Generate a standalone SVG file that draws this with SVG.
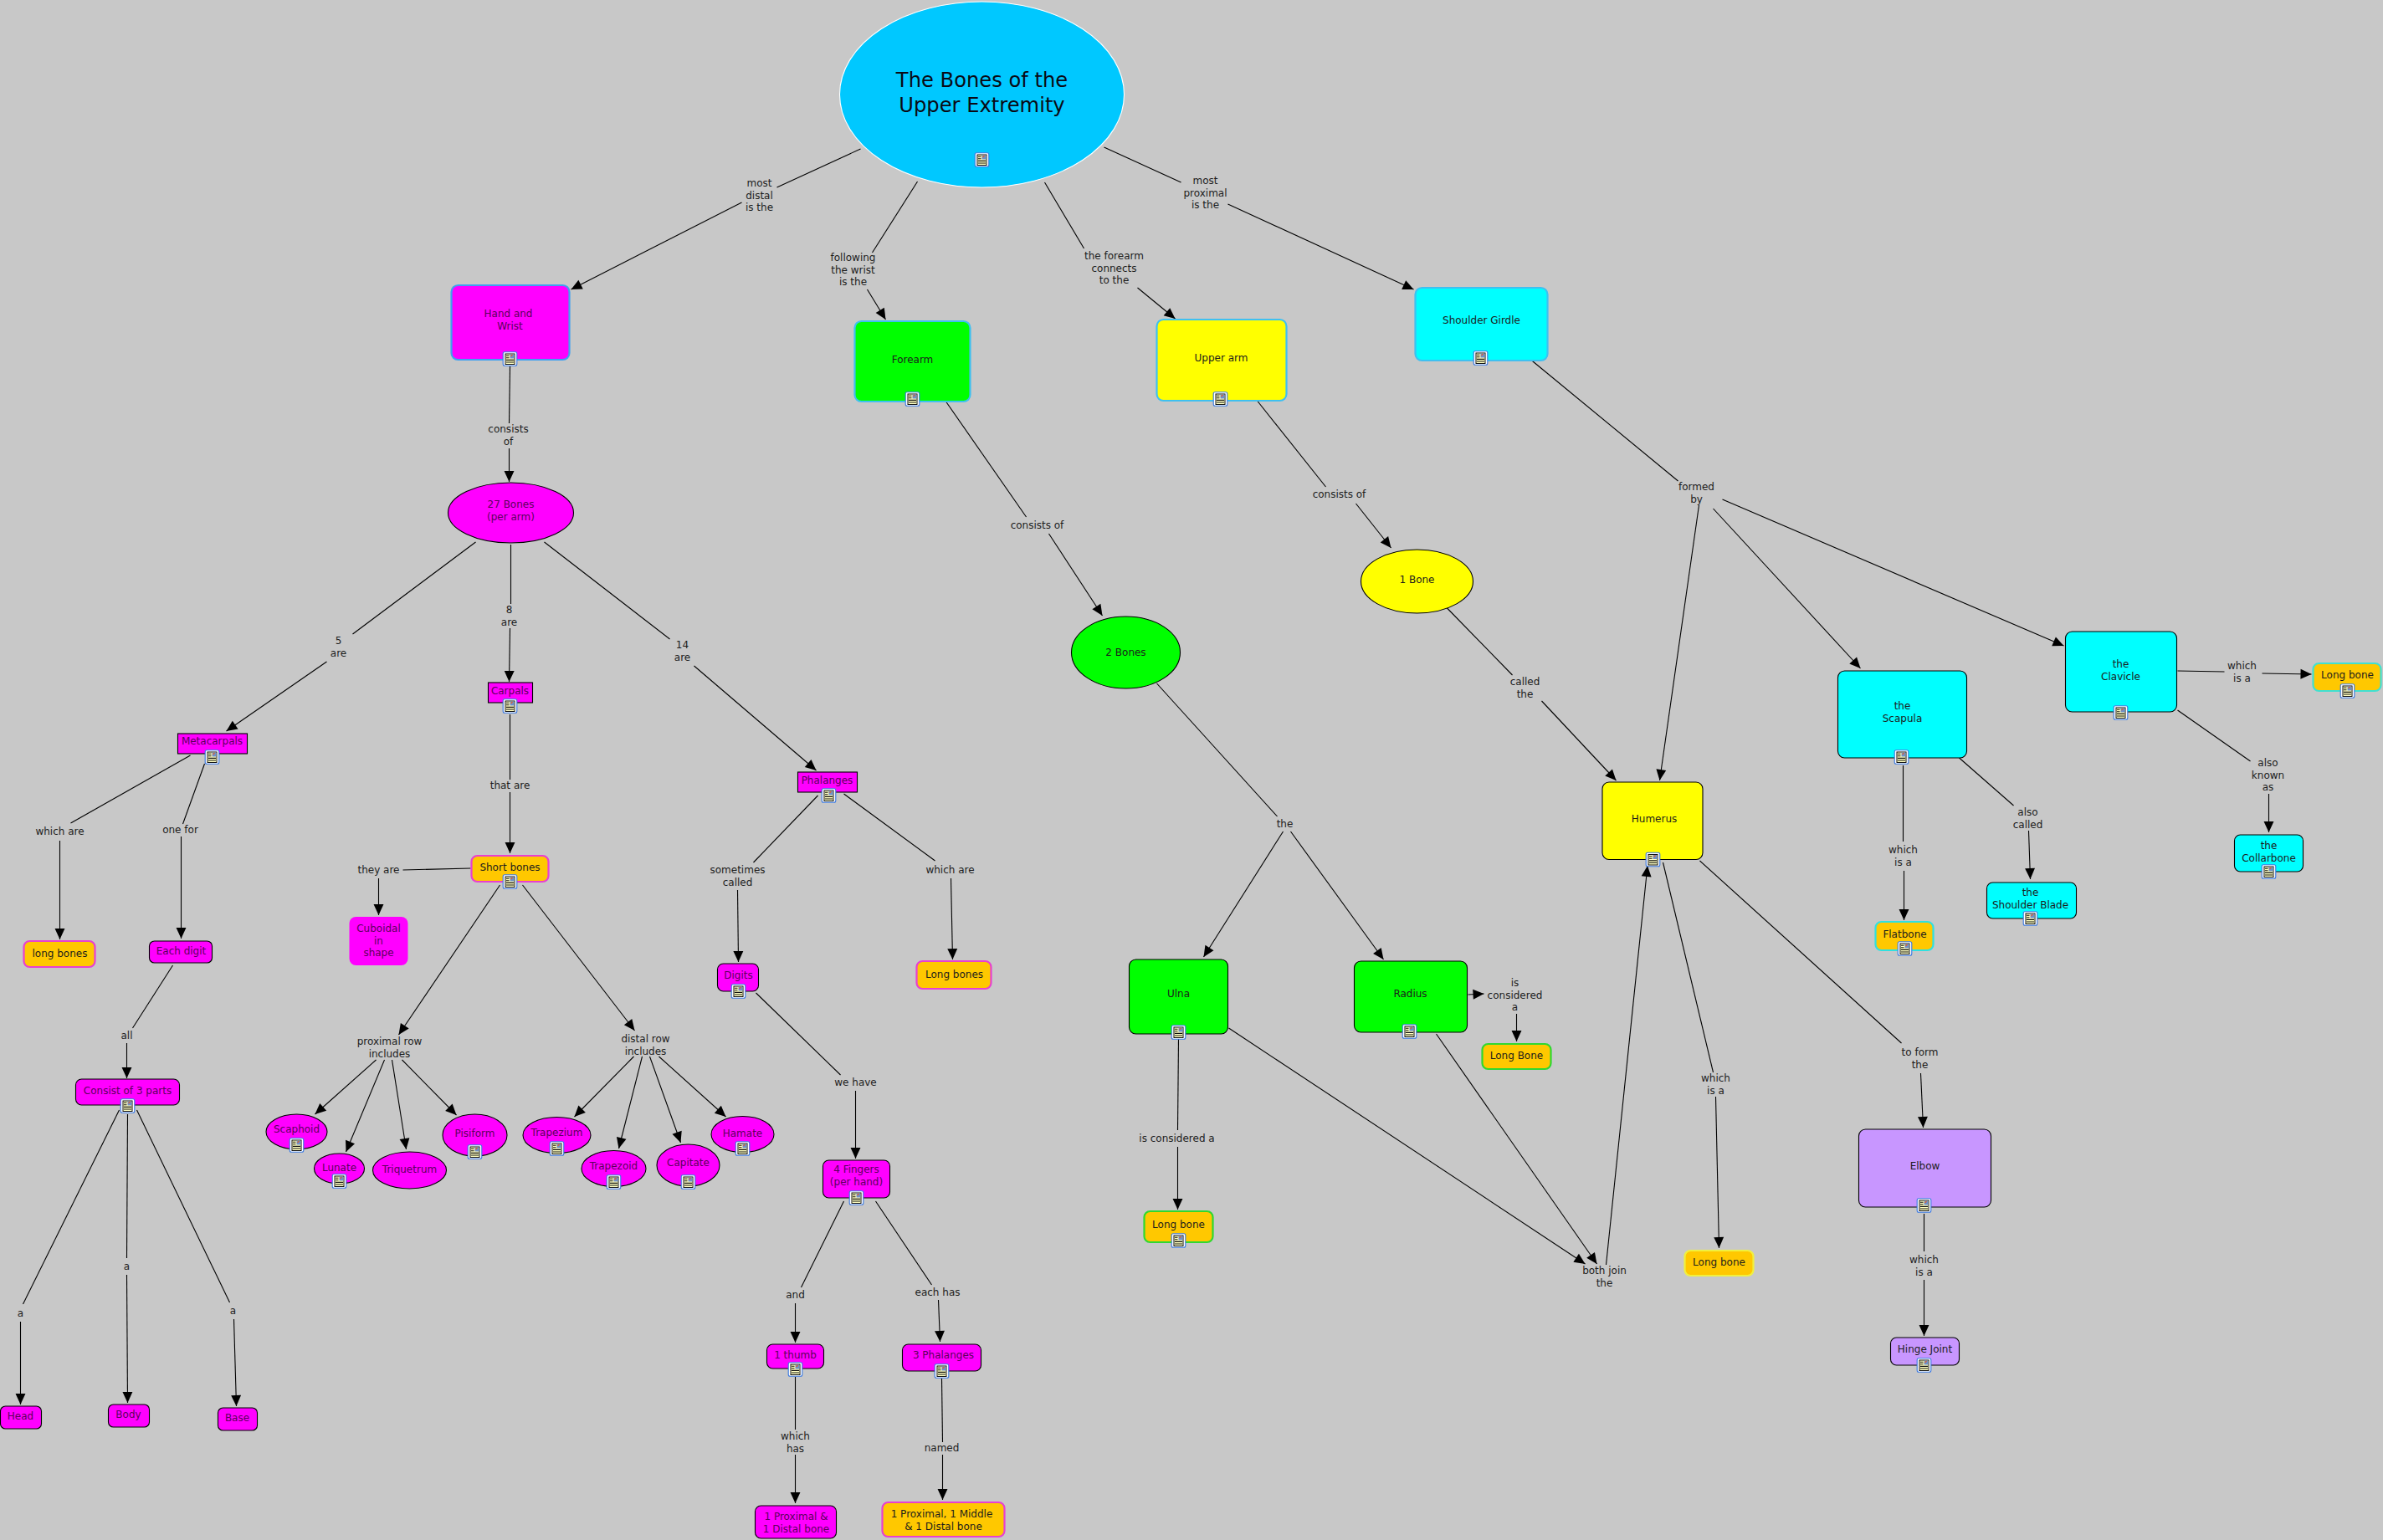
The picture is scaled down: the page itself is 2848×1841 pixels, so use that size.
<svg xmlns="http://www.w3.org/2000/svg" width="2848" height="1841" viewBox="0 0 2848 1841">
<style>
text{font-family:"DejaVu Sans","Verdana",sans-serif;font-size:12px;text-anchor:middle;dominant-baseline:central;fill:#1c1c1c}
.m text{fill:#5c005c}
text.title{font-size:24.2px;fill:#0a0a14}
.l{fill:none;stroke:#000;stroke-width:1.1}
.a{marker-end:url(#arrow)}
.mag{fill:#f0f;stroke:#000;stroke-width:1.1}
.org{fill:#ffc800;stroke-width:2.2}
.cyn{fill:#0ff;stroke:#000;stroke-width:1.1}
.yel{fill:#ff0;stroke:#000;stroke-width:1.1}
.grn{fill:#0f0;stroke:#000;stroke-width:1.1}
</style>
<defs>
<marker id="arrow" markerUnits="userSpaceOnUse" markerWidth="13" markerHeight="13" refX="12" refY="6" orient="auto" viewBox="0 0 12 12" overflow="visible"><path d="M0 .5L12 6L0 11.5Z" fill="#000"/></marker>
<g id="icon">
<rect x="-8.3" y="-8.3" width="16.6" height="16.6" rx="2" fill="#fff" stroke="#3a78e0" stroke-width="1.1"/>
<rect x="-5.5" y="-6" width="11" height="12.5" fill="#ffffc0" stroke="#111" stroke-width="1"/>
<rect x="0" y="-5.5" width="5" height="5" fill="#6f90c8"/>
<path d="M-4.5-3.7H-1M-4.5-1.3H-1M-4.5 1.4H4.5M-4.5 4H4.5" stroke="#111" stroke-width="1.1" fill="none"/>
<path d="M1-3L3-5" stroke="#e06030" stroke-width="1.2"/>
</g>
</defs>
<rect width="2848" height="1841" fill="#c8c8c8"/>
<g transform="translate(.5 1)">
<g id="connectors">
<path class="l" d="M1028 177L928 223"/><path class="l a" d="M886 241L682 345"/>
<path class="l" d="M1096 216L1042 301"/><path class="l a" d="M1036 345L1058 381"/>
<path class="l" d="M1248 217L1295 296"/><path class="l a" d="M1359 343L1404 380"/>
<path class="l" d="M1319 175L1411 217"/><path class="l a" d="M1467 243L1689 345"/>
<path class="l" d="M609 437L608 505"/><path class="l a" d="M608 535L608 575"/>
<path class="l" d="M568 647L421 757"/><path class="l a" d="M390 790L270 873"/>
<path class="l" d="M610 650L610 721"/><path class="l a" d="M609 750L608 814"/>
<path class="l" d="M650 647L800 763"/><path class="l a" d="M829 795L975 920"/>
<path class="l" d="M609 853L609 931"/><path class="l a" d="M609 946L609 1019"/>
<path class="l" d="M562 1037L481 1039"/><path class="l a" d="M452 1049L452 1093"/>
<path class="l a" d="M597 1057L476 1236"/><path class="l a" d="M624 1057L758 1231"/>
<path class="l a" d="M449 1266L376 1331"/><path class="l a" d="M459 1266L413 1376"/><path class="l a" d="M468 1266L485 1373"/><path class="l a" d="M480 1266L545 1332"/>
<path class="l a" d="M757 1262L686 1334"/><path class="l a" d="M767 1262L739 1372"/><path class="l a" d="M776 1262L813 1365"/><path class="l a" d="M787 1262L867 1334"/>
<path class="l" d="M227 902L84 983"/><path class="l a" d="M71 1004L71 1122"/>
<path class="l" d="M244 912L218 984"/><path class="l a" d="M216 999L216 1121"/>
<path class="l" d="M206 1153L158 1228"/><path class="l a" d="M151 1246L151 1288"/>
<path class="l" d="M142 1326L27 1558"/><path class="l a" d="M24 1579L24 1678"/>
<path class="l" d="M152 1331L151 1503"/><path class="l a" d="M151 1523L152 1676"/>
<path class="l" d="M163 1326L274 1556"/><path class="l a" d="M279 1576L282 1680"/>
<path class="l" d="M977 950L900 1030"/><path class="l a" d="M881 1063L882 1149"/>
<path class="l" d="M1008 948L1117 1028"/><path class="l a" d="M1136 1049L1138 1146"/>
<path class="l" d="M903 1186L1004 1284"/><path class="l a" d="M1022 1303L1022 1384"/>
<path class="l" d="M1008 1435L957 1538"/><path class="l a" d="M950 1557L950 1604"/>
<path class="l" d="M1046 1435L1113 1535"/><path class="l a" d="M1121 1553L1123 1603"/>
<path class="l" d="M950 1645L950 1708"/><path class="l a" d="M950 1738L950 1796"/>
<path class="l" d="M1125 1647L1126 1723"/><path class="l a" d="M1126 1738L1126 1792"/>
<path class="l" d="M1130 479L1226 617"/><path class="l a" d="M1253 637L1317 735"/>
<path class="l" d="M1502 478L1584 581"/><path class="l a" d="M1620 601L1662 654"/>
<path class="l" d="M1382 816L1526 975"/>
<path class="l a" d="M1533 993L1438 1143"/><path class="l a" d="M1542 993L1653 1146"/>
<path class="l" d="M1729 726L1807 806"/><path class="l a" d="M1842 837L1931 932"/>
<path class="l a" d="M1468 1228L1894 1510"/><path class="l a" d="M1716 1235L1908 1510"/>
<path class="l a" d="M1919 1511L1968.5 1034"/>
<path class="l" d="M1987 1030L2047 1281"/><path class="l a" d="M2050 1310L2054 1491"/>
<path class="l" d="M2031 1028L2272 1246"/><path class="l a" d="M2295 1282L2298 1347"/>
<path class="l" d="M2299 1450L2299 1495"/><path class="l a" d="M2299 1529L2299 1596"/>
<path class="l" d="M1829 429L2005 574"/>
<path class="l a" d="M2030 603L1983 932"/><path class="l a" d="M2047 607L2223 798"/><path class="l a" d="M2058 596L2466 771"/>
<path class="l" d="M2274 914L2274 1005"/><path class="l a" d="M2275 1040L2275 1099"/>
<path class="l" d="M2341 905L2406 962"/><path class="l a" d="M2424 992L2426 1050"/>
<path class="l" d="M2602 801L2658 802"/><path class="l a" d="M2703 804L2762 805"/>
<path class="l" d="M2602 848L2689 909"/><path class="l a" d="M2711 948L2711 994"/>
<path class="l" d="M1408 1240L1407 1350"/><path class="l a" d="M1407 1370L1407 1445"/>
<path class="l a" d="M1754 1188L1773 1187"/><path class="l a" d="M1812 1211L1812 1244"/>
</g>
<g id="labels">
<text x="907" y="218">most<tspan x="907" dy="14.7">distal</tspan><tspan x="907" dy="14.7">is the</tspan></text>
<text x="1019" y="307">following<tspan x="1019" dy="14.7">the wrist</tspan><tspan x="1019" dy="14.7">is the</tspan></text>
<text x="1331" y="305">the forearm<tspan x="1331" dy="14.7">connects</tspan><tspan x="1331" dy="14.7">to the</tspan></text>
<text x="1440" y="215">most<tspan x="1440" dy="14.7">proximal</tspan><tspan x="1440" dy="14.7">is the</tspan></text>
<text x="607" y="512">consists<tspan x="607" dy="14.7">of</tspan></text>
<text x="1239" y="627">consists of</text>
<text x="1600" y="590">consists of</text>
<text x="2027" y="581">formed<tspan x="2027" dy="14.7">by</tspan></text>
<text x="1822" y="814">called<tspan x="1822" dy="14.7">the</tspan></text>
<text x="1535" y="984">the</text>
<text x="404" y="765">5<tspan x="404" dy="14.7">are</tspan></text>
<text x="608" y="728">8<tspan x="608" dy="14.7">are</tspan></text>
<text x="815" y="770">14<tspan x="815" dy="14.7">are</tspan></text>
<text x="609" y="938">that are</text>
<text x="452" y="1039">they are</text>
<text x="215" y="991">one for</text>
<text x="71" y="993">which are</text>
<text x="1135" y="1039">which are</text>
<text x="881" y="1039">sometimes<tspan x="881" dy="14.7">called</tspan></text>
<text x="151" y="1237">all</text>
<text x="1022" y="1293">we have</text>
<text x="24" y="1569">a</text>
<text x="151" y="1513">a</text>
<text x="278" y="1566">a</text>
<text x="950" y="1547">and</text>
<text x="1120" y="1544">each has</text>
<text x="950" y="1716">which<tspan x="950" dy="14.7">has</tspan></text>
<text x="1125" y="1730">named</text>
<text x="465" y="1244">proximal row<tspan x="465" dy="14.7">includes</tspan></text>
<text x="771" y="1241">distal row<tspan x="771" dy="14.7">includes</tspan></text>
<text x="1810" y="1174">is<tspan x="1810" dy="14.7">considered</tspan><tspan x="1810" dy="14.7">a</tspan></text>
<text x="1406" y="1360">is considered a</text>
<text x="1917" y="1518">both join<tspan x="1917" dy="14.7">the</tspan></text>
<text x="2050" y="1288">which<tspan x="2050" dy="14.7">is a</tspan></text>
<text x="2294" y="1257">to form<tspan x="2294" dy="14.7">the</tspan></text>
<text x="2299" y="1505">which<tspan x="2299" dy="14.7">is a</tspan></text>
<text x="2274" y="1015">which<tspan x="2274" dy="14.7">is a</tspan></text>
<text x="2423" y="970">also<tspan x="2423" dy="14.7">called</tspan></text>
<text x="2679" y="795">which<tspan x="2679" dy="14.7">is a</tspan></text>
<text x="2710" y="911">also<tspan x="2710" dy="14.7">known</tspan><tspan x="2710" dy="14.7">as</tspan></text>
</g>
<g id="n-root"><ellipse cx="1173" cy="112" rx="170" ry="111" fill="#00c8ff" stroke="#fff" stroke-width="1.1"/><text class="title" x="1173" y="95">The Bones of the<tspan x="1173" dy="29.5">Upper Extremity</tspan></text><use href="#icon" x="1173" y="190"/></g>
<g id="n-hand" class="m"><rect x="539" y="340" width="141" height="89" rx="8" fill="#f0f" stroke="#3fa0f0" stroke-width="2.2"/><text x="607" y="374">Hand and<tspan x="609" dy="14.7">Wrist</tspan></text><use href="#icon" x="609" y="428"/></g>
<g id="n-forearm"><rect x="1021" y="383" width="138" height="96" rx="8" fill="#0f0" stroke="#3fc0f0" stroke-width="2.2"/><text x="1090" y="429">Forearm</text><use href="#icon" x="1090" y="476"/></g>
<g id="n-upperarm"><rect x="1382" y="381" width="155" height="97" rx="8" fill="#ff0" stroke="#3fc0f0" stroke-width="2.2"/><text x="1459" y="427">Upper arm</text><use href="#icon" x="1458" y="476"/></g>
<g id="n-shoulder"><rect x="1691" y="343" width="158" height="87" rx="8" fill="#0ff" stroke="#3fc0f0" stroke-width="2.2"/><text x="1770" y="382">Shoulder Girdle</text><use href="#icon" x="1769" y="427"/></g>
<g id="n-27bones" class="m"><ellipse class="mag" cx="610" cy="612" rx="75" ry="36"/><text x="610" y="602">27 Bones<tspan x="610" dy="14.7">(per arm)</tspan></text></g>
<g id="n-metacarpals" class="m"><rect class="mag" x="212" y="876" width="83" height="24"/><text x="253" y="885">Metacarpals</text><use href="#icon" x="253" y="904"/></g>
<g id="n-carpals" class="m"><rect class="mag" x="583" y="815" width="53" height="24"/><text x="609" y="825">Carpals</text><use href="#icon" x="609" y="843"/></g>
<g id="n-phalanges" class="m"><rect class="mag" x="953" y="922" width="71" height="24"/><text x="988" y="932">Phalanges</text><use href="#icon" x="990" y="950"/></g>
<g id="n-shortbones"><rect class="org" x="563" y="1022" width="92" height="31" rx="7" stroke="#e840d0"/><text x="609" y="1036">Short bones</text><use href="#icon" x="609" y="1053"/></g>
<g id="n-cuboidal" class="m"><rect x="417" y="1095" width="70" height="58" rx="8" fill="#f0f"/><text x="452" y="1109">Cuboidal<tspan x="452" dy="14.7">in</tspan><tspan x="452" dy="14.7">shape</tspan></text></g>
<g id="n-eachdigit" class="m"><rect class="mag" x="178" y="1124" width="75" height="26" rx="6"/><text x="216" y="1136">Each digit</text></g>
<g id="n-longbones1"><rect class="org" x="28" y="1124" width="85" height="31" rx="7" stroke="#e840d0"/><text x="71" y="1139">long bones</text></g>
<g id="n-consist" class="m"><rect class="mag" x="90" y="1289" width="124" height="31" rx="7"/><text x="152" y="1303">Consist of 3 parts</text><use href="#icon" x="152" y="1321"/></g>
<g id="n-head" class="m"><rect class="mag" x="0" y="1680" width="49" height="27" rx="6"/><text x="24" y="1692">Head</text></g>
<g id="n-body" class="m"><rect class="mag" x="129" y="1678" width="49" height="27" rx="6"/><text x="153" y="1690">Body</text></g>
<g id="n-base" class="m"><rect class="mag" x="260" y="1682" width="47" height="27" rx="6"/><text x="283" y="1694">Base</text></g>
<g id="n-scaphoid" class="m"><ellipse class="mag" cx="354" cy="1352" rx="36.5" ry="21"/><text x="354" y="1349">Scaphoid</text><use href="#icon" x="354" y="1368"/></g>
<g id="n-lunate" class="m"><ellipse class="mag" cx="405" cy="1396" rx="30" ry="18"/><text x="405" y="1395">Lunate</text><use href="#icon" x="405" y="1411"/></g>
<g id="n-triquetrum" class="m"><ellipse class="mag" cx="489" cy="1398" rx="44" ry="22"/><text x="489" y="1397">Triquetrum</text></g>
<g id="n-pisiform" class="m"><ellipse class="mag" cx="567" cy="1356" rx="38.5" ry="25"/><text x="567" y="1354">Pisiform</text><use href="#icon" x="567" y="1376"/></g>
<g id="n-trapezium" class="m"><ellipse class="mag" cx="665" cy="1356" rx="40.5" ry="21.5"/><text x="665" y="1353">Trapezium</text><use href="#icon" x="665" y="1372"/></g>
<g id="n-trapezoid" class="m"><ellipse class="mag" cx="733" cy="1396" rx="38.5" ry="21.5"/><text x="733" y="1393">Trapezoid</text><use href="#icon" x="733" y="1412"/></g>
<g id="n-capitate" class="m"><ellipse class="mag" cx="822" cy="1392" rx="37.5" ry="25"/><text x="822" y="1389">Capitate</text><use href="#icon" x="822" y="1412"/></g>
<g id="n-hamate" class="m"><ellipse class="mag" cx="887" cy="1355" rx="37.5" ry="21.5"/><text x="887" y="1354">Hamate</text><use href="#icon" x="887" y="1372"/></g>
<g id="n-digits" class="m"><rect class="mag" x="857" y="1151" width="49" height="33" rx="7"/><text x="882" y="1165">Digits</text><use href="#icon" x="882" y="1184"/></g>
<g id="n-longbones2"><rect class="org" x="1095" y="1148" width="89" height="33" rx="7" stroke="#e840d0"/><text x="1140" y="1164">Long bones</text></g>
<g id="n-fingers" class="m"><rect class="mag" x="983" y="1386" width="80" height="45" rx="7"/><text x="1023" y="1397">4 Fingers<tspan x="1023" dy="14.7">(per hand)</tspan></text><use href="#icon" x="1023" y="1431"/></g>
<g id="n-thumb" class="m"><rect class="mag" x="916" y="1606" width="68" height="29" rx="7"/><text x="950" y="1619">1 thumb</text><use href="#icon" x="950" y="1636"/></g>
<g id="n-3phal" class="m"><rect class="mag" x="1078" y="1606" width="94" height="32" rx="7"/><text x="1127" y="1619">3 Phalanges</text><use href="#icon" x="1125" y="1638"/></g>
<g id="n-1prox" class="m"><rect class="mag" x="902" y="1799" width="97" height="39" rx="7"/><text x="951" y="1812">1 Proximal &amp;<tspan x="951" dy="14.7">1 Distal bone</tspan></text></g>
<g id="n-1proxmid"><rect class="org" x="1054" y="1795" width="146" height="41" rx="7" stroke="#e840d0"/><text x="1125" y="1809">1 Proximal, 1 Middle<tspan x="1127" dy="14.7">&amp; 1 Distal bone</tspan></text></g>
<g id="n-2bones"><ellipse class="grn" cx="1345" cy="779" rx="65" ry="43"/><text x="1345" y="779">2 Bones</text></g>
<g id="n-1bone"><ellipse class="yel" cx="1693" cy="694" rx="67" ry="38"/><text x="1693" y="692">1 Bone</text></g>
<g id="n-ulna"><rect class="grn" x="1349" y="1146" width="118" height="89" rx="8"/><text x="1408" y="1187">Ulna</text><use href="#icon" x="1408" y="1233"/></g>
<g id="n-radius"><rect class="grn" x="1618" y="1148" width="135" height="85" rx="8"/><text x="1685" y="1187">Radius</text><use href="#icon" x="1684" y="1232"/></g>
<g id="n-longbone-rad"><rect class="org" x="1771" y="1247" width="82" height="30" rx="7" stroke="#30d830"/><text x="1812" y="1261">Long Bone</text></g>
<g id="n-longbone-uln"><rect class="org" x="1367" y="1447" width="82" height="37" rx="7" stroke="#30d830"/><text x="1408" y="1463">Long bone</text><use href="#icon" x="1408" y="1482"/></g>
<g id="n-humerus"><rect class="yel" x="1914.5" y="934" width="120" height="92.5" rx="8"/><text x="1976.5" y="978">Humerus</text><use href="#icon" x="1975" y="1026.5"/></g>
<g id="n-scapula"><rect class="cyn" x="2196" y="801" width="154" height="104" rx="8"/><text x="2273" y="843">the<tspan x="2273" dy="14.7">Scapula</tspan></text><use href="#icon" x="2272" y="904"/></g>
<g id="n-clavicle"><rect class="cyn" x="2468" y="754" width="133" height="96" rx="8"/><text x="2534" y="793">the<tspan x="2534" dy="14.7">Clavicle</tspan></text><use href="#icon" x="2534" y="851"/></g>
<g id="n-longbone-cla"><rect class="org" x="2764" y="792" width="81" height="33" rx="7" stroke="#40e0d0"/><text x="2805" y="806">Long bone</text><use href="#icon" x="2805" y="825"/></g>
<g id="n-collarbone"><rect class="cyn" x="2670" y="997" width="82" height="44" rx="7"/><text x="2711" y="1010">the<tspan x="2711" dy="14.7">Collarbone</tspan></text><use href="#icon" x="2711" y="1041"/></g>
<g id="n-blade"><rect class="cyn" x="2374" y="1054" width="107" height="43" rx="7"/><text x="2426" y="1066">the<tspan x="2426" dy="14.7">Shoulder Blade</tspan></text><use href="#icon" x="2426" y="1097"/></g>
<g id="n-flatbone"><rect class="org" x="2241" y="1101" width="69" height="34" rx="7" stroke="#30e0e0"/><text x="2276" y="1116">Flatbone</text><use href="#icon" x="2276" y="1133"/></g>
<g id="n-longbone-hum"><rect class="org" x="2013" y="1494" width="82" height="30" rx="7" stroke="#f0f040"/><text x="2054" y="1508">Long bone</text></g>
<g id="n-elbow"><rect x="2221" y="1349" width="158" height="93" rx="8" fill="#c896ff" stroke="#000" stroke-width="1.1"/><text x="2300" y="1393">Elbow</text><use href="#icon" x="2299" y="1440"/></g>
<g id="n-hinge"><rect x="2259" y="1598" width="82" height="33" rx="7" fill="#c896ff" stroke="#000" stroke-width="1.1"/><text x="2300" y="1612">Hinge Joint</text><use href="#icon" x="2299" y="1631"/></g>
</g>
</svg>
